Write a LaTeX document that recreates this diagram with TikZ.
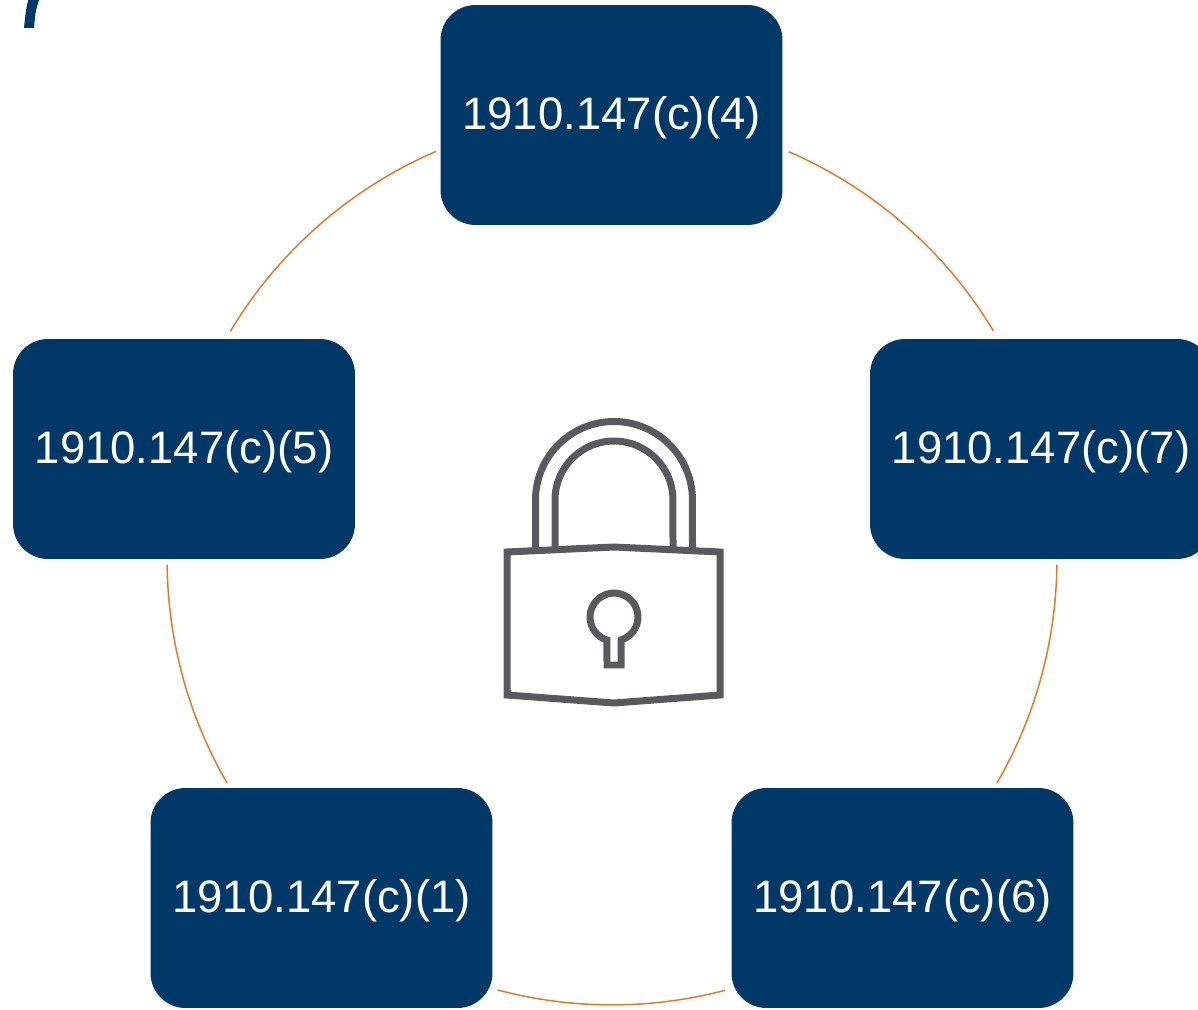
\documentclass[tikz,border=0pt]{standalone}
\usepackage{fontspec}
\setmainfont{Liberation Sans}
\definecolor{navy}{RGB}{0,56,103}
\definecolor{arcorange}{RGB}{228,122,42}
\definecolor{lockgray}{RGB}{88,90,93}
\begin{document}
\begin{tikzpicture}[x=0.02cm,y=0.02cm,
  box/.style={draw=none,fill=navy,rounded corners=0.7cm,minimum width=6.84cm,minimum height=4.4cm,inner sep=0pt,
    text=white,font=\fontsize{25.9pt}{30pt}\selectfont},
  lbl/.style={text=white,font=\fontsize{25.9pt}{30pt}\selectfont,inner sep=0pt},
  ring/.style={draw=arcorange,line width=0.03cm},
  lockline/.style={draw=lockgray,line width=0.14cm,line join=miter}]
\useasboundingbox (0,0) rectangle (1198,1009);
% boxes
\node[box] (n4) at (611.5,894) {};
\node[box] (n5) at (184,560) {};
\node[box] (n7) at (1041,560) {};
\node[box] (n1) at (321.5,111) {};
\node[box] (n6) at (902.5,111) {};
\node[lbl] (t4) at ([yshift=-0.05cm]n4.center) {1910.147(c)(4)};
\node[lbl] (t5) at ([yshift=-0.05cm]n5.center) {1910.147(c)(5)};
\node[lbl] (t7) at ([yshift=-0.05cm]n7.center) {1910.147(c)(7)};
\node[lbl] (t1) at ([yshift=-0.05cm]n1.center) {1910.147(c)(1)};
\node[lbl] (t6) at ([yshift=-0.05cm]n6.center) {1910.147(c)(6)};
% ring arcs
\coordinate (c) at (612,449);
\draw[ring] (c) ++(113.3:8.9cm) arc[start angle=113.3,end angle=149.1,radius=8.9cm];
\draw[ring] (c) ++(66.6:8.9cm) arc[start angle=66.6,end angle=31,radius=8.9cm];
\draw[ring] (c) ++(-0.6:8.9cm) arc[start angle=-0.6,end angle=-30.1,radius=8.9cm];
\draw[ring] (c) ++(-75.3:8.9cm) arc[start angle=-75.3,end angle=-104.9,radius=8.9cm];
\draw[ring] (c) ++(-149.9:8.9cm) arc[start angle=-149.9,end angle=-179.4,radius=8.9cm];
% lock shackle
\draw[lockline] (535.5,459) -- (535.5,509) arc[start angle=180,end angle=0,radius=1.57cm] -- (692.5,459);
\draw[lockline] (555,461) -- (555,509) arc[start angle=180,end angle=0,radius=1.18cm] -- (673,461);
% lock body
\draw[lockline,fill=white] (507,457) -- (614,462) -- (720,457) -- (720,314) -- (614,306) -- (507,314) -- cycle;
% keyhole
\draw[lockline] (621,344) -- (621,369) arc[start angle=-73,end angle=253,radius=0.48cm] -- (607,344) -- cycle;
% top-left fragment
\fill[navy] (29,1012) .. controls (26,1000) .. (24,981) -- (34,981) .. controls (35.5,998) .. (40,1012) -- cycle;
\end{tikzpicture}
\end{document}
